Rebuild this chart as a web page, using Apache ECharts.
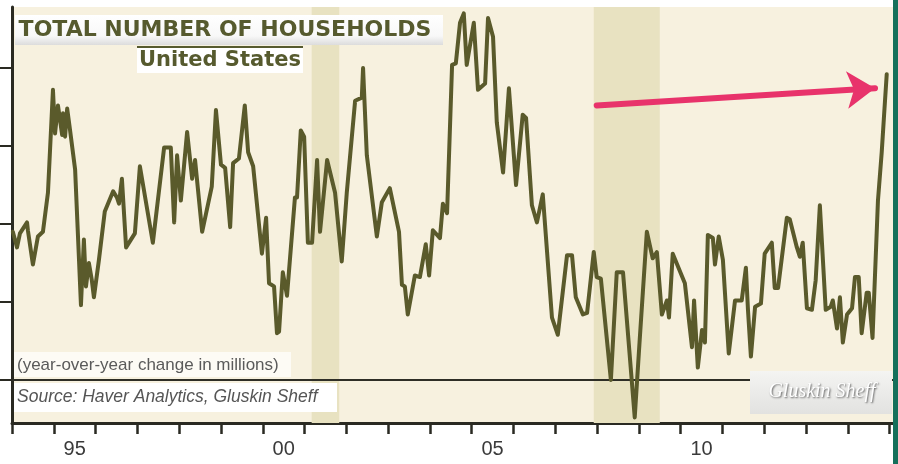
<!DOCTYPE html>
<html>
<head>
<meta charset="utf-8">
<script src="https://cdn.jsdelivr.net/npm/echarts@6/dist/echarts.min.js"></script>
<style>
html,body{margin:0;padding:0;background:#ffffff;}
#chart{width:898px;height:464px;}
</style>
</head>
<body>
<div id="chart"></div>
<script>
// Decimal-year dates and year-over-year change in households (millions)
const dates = [1994.02,1994.12,1994.19,1994.36,1994.38,1994.50,1994.62,1994.74,1994.86,1994.98,
1995.03,1995.10,1995.20,1995.22,1995.27,1995.32,1995.39,1995.51,1995.65,1995.72,1995.77,1995.84,1995.91,1995.96,
1996.08,1996.22,1996.42,1996.51,1996.56,1996.63,1996.73,1996.94,
1997.06,1997.37,1997.64,1997.80,1997.88,1997.95,
1998.04,1998.19,1998.31,1998.38,1998.55,1998.78,1998.88,
1999.00,1999.10,1999.22,1999.29,1999.43,1999.57,1999.65,1999.77,1999.98,
2000.08,2000.15,2000.27,2000.34,2000.39,2000.48,2000.58,2000.77,2000.82,2000.91,2000.99,
2001.08,2001.18,2001.30,2001.37,2001.54,2001.73,2001.89,
2002.01,2002.21,2002.25,2002.37,2002.40,2002.49,2002.73,2002.85,
2003.04,2003.26,2003.33,2003.40,2003.47,2003.64,2003.76,2003.90,2003.98,
2004.07,2004.24,2004.31,2004.41,2004.53,2004.62,2004.72,2004.81,2004.88,
2005.05,2005.15,2005.32,2005.39,2005.51,2005.60,2005.75,2005.89,
2006.06,2006.22,2006.30,2006.44,2006.56,2006.70,2006.92,
2007.06,2007.28,2007.40,2007.49,2007.66,2007.76,2007.92,2007.99,
2008.09,2008.33,2008.47,2008.62,2008.90,
2009.02,2009.19,2009.33,2009.43,2009.55,2009.67,2009.72,2009.81,
2010.10,2010.27,2010.32,2010.41,2010.51,2010.58,2010.65,2010.77,2010.82,2010.91,
2011.01,2011.15,2011.30,2011.46,2011.56,2011.61,2011.68,2011.78,2011.92,
2012.01,2012.18,2012.25,2012.33,2012.54,2012.61,2012.78,2012.85,2012.92,
2013.02,2013.14,2013.23,2013.33,2013.47,2013.59,2013.64,2013.74,2013.81,2013.88,2013.98,
2014.10,2014.17,2014.26,2014.33,2014.45,2014.50,2014.59,2014.72,2014.81,2014.86,2014.93];
const yoyChange = [0.95,0.85,0.94,1.01,0.96,0.74,0.92,0.95,1.20,1.86,
1.58,1.76,1.57,1.71,1.56,1.74,1.60,1.35,0.48,0.90,0.60,0.75,0.64,0.53,
0.77,1.08,1.21,1.17,1.13,1.29,0.85,0.94,
1.37,0.88,1.49,1.49,1.01,1.44,
1.15,1.59,1.29,1.41,0.95,1.24,1.73,
1.38,1.36,0.98,1.39,1.42,1.76,1.46,1.37,0.81,
1.04,0.62,0.60,0.30,0.31,0.69,0.54,1.17,1.17,1.60,1.56,
0.88,0.88,1.41,0.95,1.41,1.20,0.76,
1.20,1.79,1.78,1.81,2.00,1.44,0.92,1.14,
1.23,0.95,0.61,0.60,0.42,0.67,0.66,0.87,0.67,
0.96,0.91,1.13,1.07,2.02,2.03,2.29,2.35,2.02,
2.29,1.86,1.90,2.32,2.20,1.65,1.33,1.87,
1.25,1.70,1.68,1.12,1.01,1.19,0.40,
0.29,0.80,0.80,0.53,0.42,0.43,0.82,0.66,
0.65,0.00,0.69,0.69,-0.24,
0.26,0.95,0.78,0.82,0.42,0.51,0.40,0.81,
0.62,0.21,0.51,0.08,0.32,0.24,0.93,0.91,0.74,0.92,
0.77,0.17,0.51,0.51,0.72,0.45,0.15,0.47,0.49,
0.81,0.88,0.59,0.59,1.04,1.03,0.85,0.79,0.88,
0.46,0.45,0.64,1.12,0.45,0.47,0.51,0.33,0.53,0.24,0.42,
0.46,0.66,0.66,0.30,0.56,0.56,0.27,1.15,1.46,1.67,1.96];

const yTicks = [0, 0.5, 1, 1.5, 2];
const yearTicks = [1994,1995,1996,1997,1998,1999,2000,2001,2002,2003,2004,2005,2006,2007,2008,2009,2010,2011,2012,2013,2014,2015];
const yearLabels = [1995.5, 2000.5, 2005.5, 2010.5];
const recessions = [[2001.17, 2001.83], [2007.92, 2009.5]];
const arrowFrom = [2007.99, 1.76];
const arrowTo = [2014.65, 1.87];

const chart = echarts.init(document.getElementById('chart'), null, {renderer: 'canvas'});
const seriesData = dates.map((d, i) => [d, yoyChange[i]]);

chart.setOption({
  animation: false,
  backgroundColor: '#ffffff',
  grid: {left: 12, right: 5, top: 7, bottom: 41, show: true, backgroundColor: '#f7f1df', borderWidth: 0},
  xAxis: {
    type: 'value', min: 1994, max: 2015.08,
    splitLine: {show: false},
    axisLine: {show: true, onZero: false, lineStyle: {color: '#2a2a22', width: 3}},
    axisTick: {show: true, customValues: yearTicks, length: 11, lineStyle: {color: '#2a2a22', width: 2.5}},
    axisLabel: {
      customValues: yearLabels, margin: 16, color: '#3a3a3a', fontSize: 20,
      fontFamily: 'Liberation Sans, Arial, sans-serif',
      formatter: v => String(Math.floor(v) % 100).padStart(2, '0')
    }
  },
  yAxis: {
    type: 'value', min: -0.2756, max: 2.391,
    splitLine: {show: false},
    axisLine: {show: true, onZero: false, lineStyle: {color: '#2a2a22', width: 3}},
    axisTick: {show: true, customValues: yTicks, length: 12, lineStyle: {color: '#2a2a22', width: 2}},
    axisLabel: {show: false}
  },
  series: [
    {
      type: 'line', data: seriesData, showSymbol: false, symbol: 'none', z: 5,
      lineStyle: {color: '#5a5a2b', width: 4, cap: 'round', join: 'round'},
      markArea: {
        silent: true,
        itemStyle: {color: '#e8e2c1'},
        data: recessions.map(r => [{xAxis: r[0]}, {xAxis: r[1]}])
      },
      markLine: {
        silent: true, symbol: ['none', 'none'], label: {show: false},
        lineStyle: {color: '#2e2e26', width: 2, type: 'solid'},
        data: [{yAxis: 0}]
      }
    },
    {
      type: 'line', data: [], z: 6,
      markLine: {
        silent: true, symbol: ['none', 'arrow'], symbolSize: [28, 28], label: {show: false},
        lineStyle: {color: '#e8336b', width: 6, type: 'solid', cap: 'round'},
        itemStyle: {color: '#e8336b'},
        data: [[{coord: arrowFrom}, {coord: arrowTo}]]
      }
    }
  ],
  graphic: [
    {type: 'rect', shape: {x: 893, y: 0, width: 5, height: 464}, style: {fill: '#15705b'}, z: 100},
    {type: 'rect', shape: {x: 15, y: 15, width: 428, height: 30},
      style: {fill: new echarts.graphic.LinearGradient(0, 0, 0, 1, [{offset: 0, color: '#ffffff'}, {offset: 0.7, color: '#f8f8f8'}, {offset: 1, color: '#dcdcdc'}])}, z: 50},
    {type: 'text', x: 225, y: 30, z: 51,
      style: {text: 'TOTAL NUMBER OF HOUSEHOLDS', fill: '#565a2e', font: 'bold 22px "DejaVu Sans", sans-serif', align: 'center', verticalAlign: 'middle'}},
    {type: 'rect', shape: {x: 137, y: 48, width: 166, height: 25}, style: {fill: '#ffffff'}, z: 50},
    {type: 'rect', shape: {x: 137, y: 46, width: 166, height: 2}, style: {fill: '#565a2e'}, z: 51},
    {type: 'text', x: 220, y: 61, z: 51,
      style: {text: 'United States', fill: '#565a2e', font: 'bold 21px "DejaVu Sans", sans-serif', align: 'center', verticalAlign: 'middle'}},
    {type: 'rect', shape: {x: 14, y: 352, width: 277, height: 25}, style: {fill: '#fdfbf5'}, z: 50},
    {type: 'text', x: 17, y: 365, z: 51,
      style: {text: '(year-over-year change in millions)', fill: '#5a5a5a', font: '17px "Liberation Sans", Arial, sans-serif', verticalAlign: 'middle'}},
    {type: 'rect', shape: {x: 14, y: 383, width: 323, height: 29}, style: {fill: '#ffffff'}, z: 50},
    {type: 'text', x: 17, y: 397, z: 51,
      style: {text: 'Source: Haver Analytics, Gluskin Sheff', fill: '#555555', font: 'italic 17.5px "Liberation Sans", Arial, sans-serif', verticalAlign: 'middle'}},
    {type: 'rect', shape: {x: 750, y: 371, width: 142, height: 43},
      style: {fill: new echarts.graphic.LinearGradient(0, 0, 0, 1, [{offset: 0, color: '#f4f4f2'}, {offset: 1, color: '#e2e2e0'}])}, z: 50},
    {type: 'text', x: 822, y: 392, z: 51,
      style: {text: 'Gluskin Sheff', fill: '#ffffff', font: 'italic 20px "Liberation Serif", "DejaVu Serif", serif', align: 'center', verticalAlign: 'middle',
        textShadowColor: 'rgba(80,80,80,0.9)', textShadowBlur: 2, textShadowOffsetX: 1, textShadowOffsetY: 1}}
  ]
});
</script>
</body>
</html>
